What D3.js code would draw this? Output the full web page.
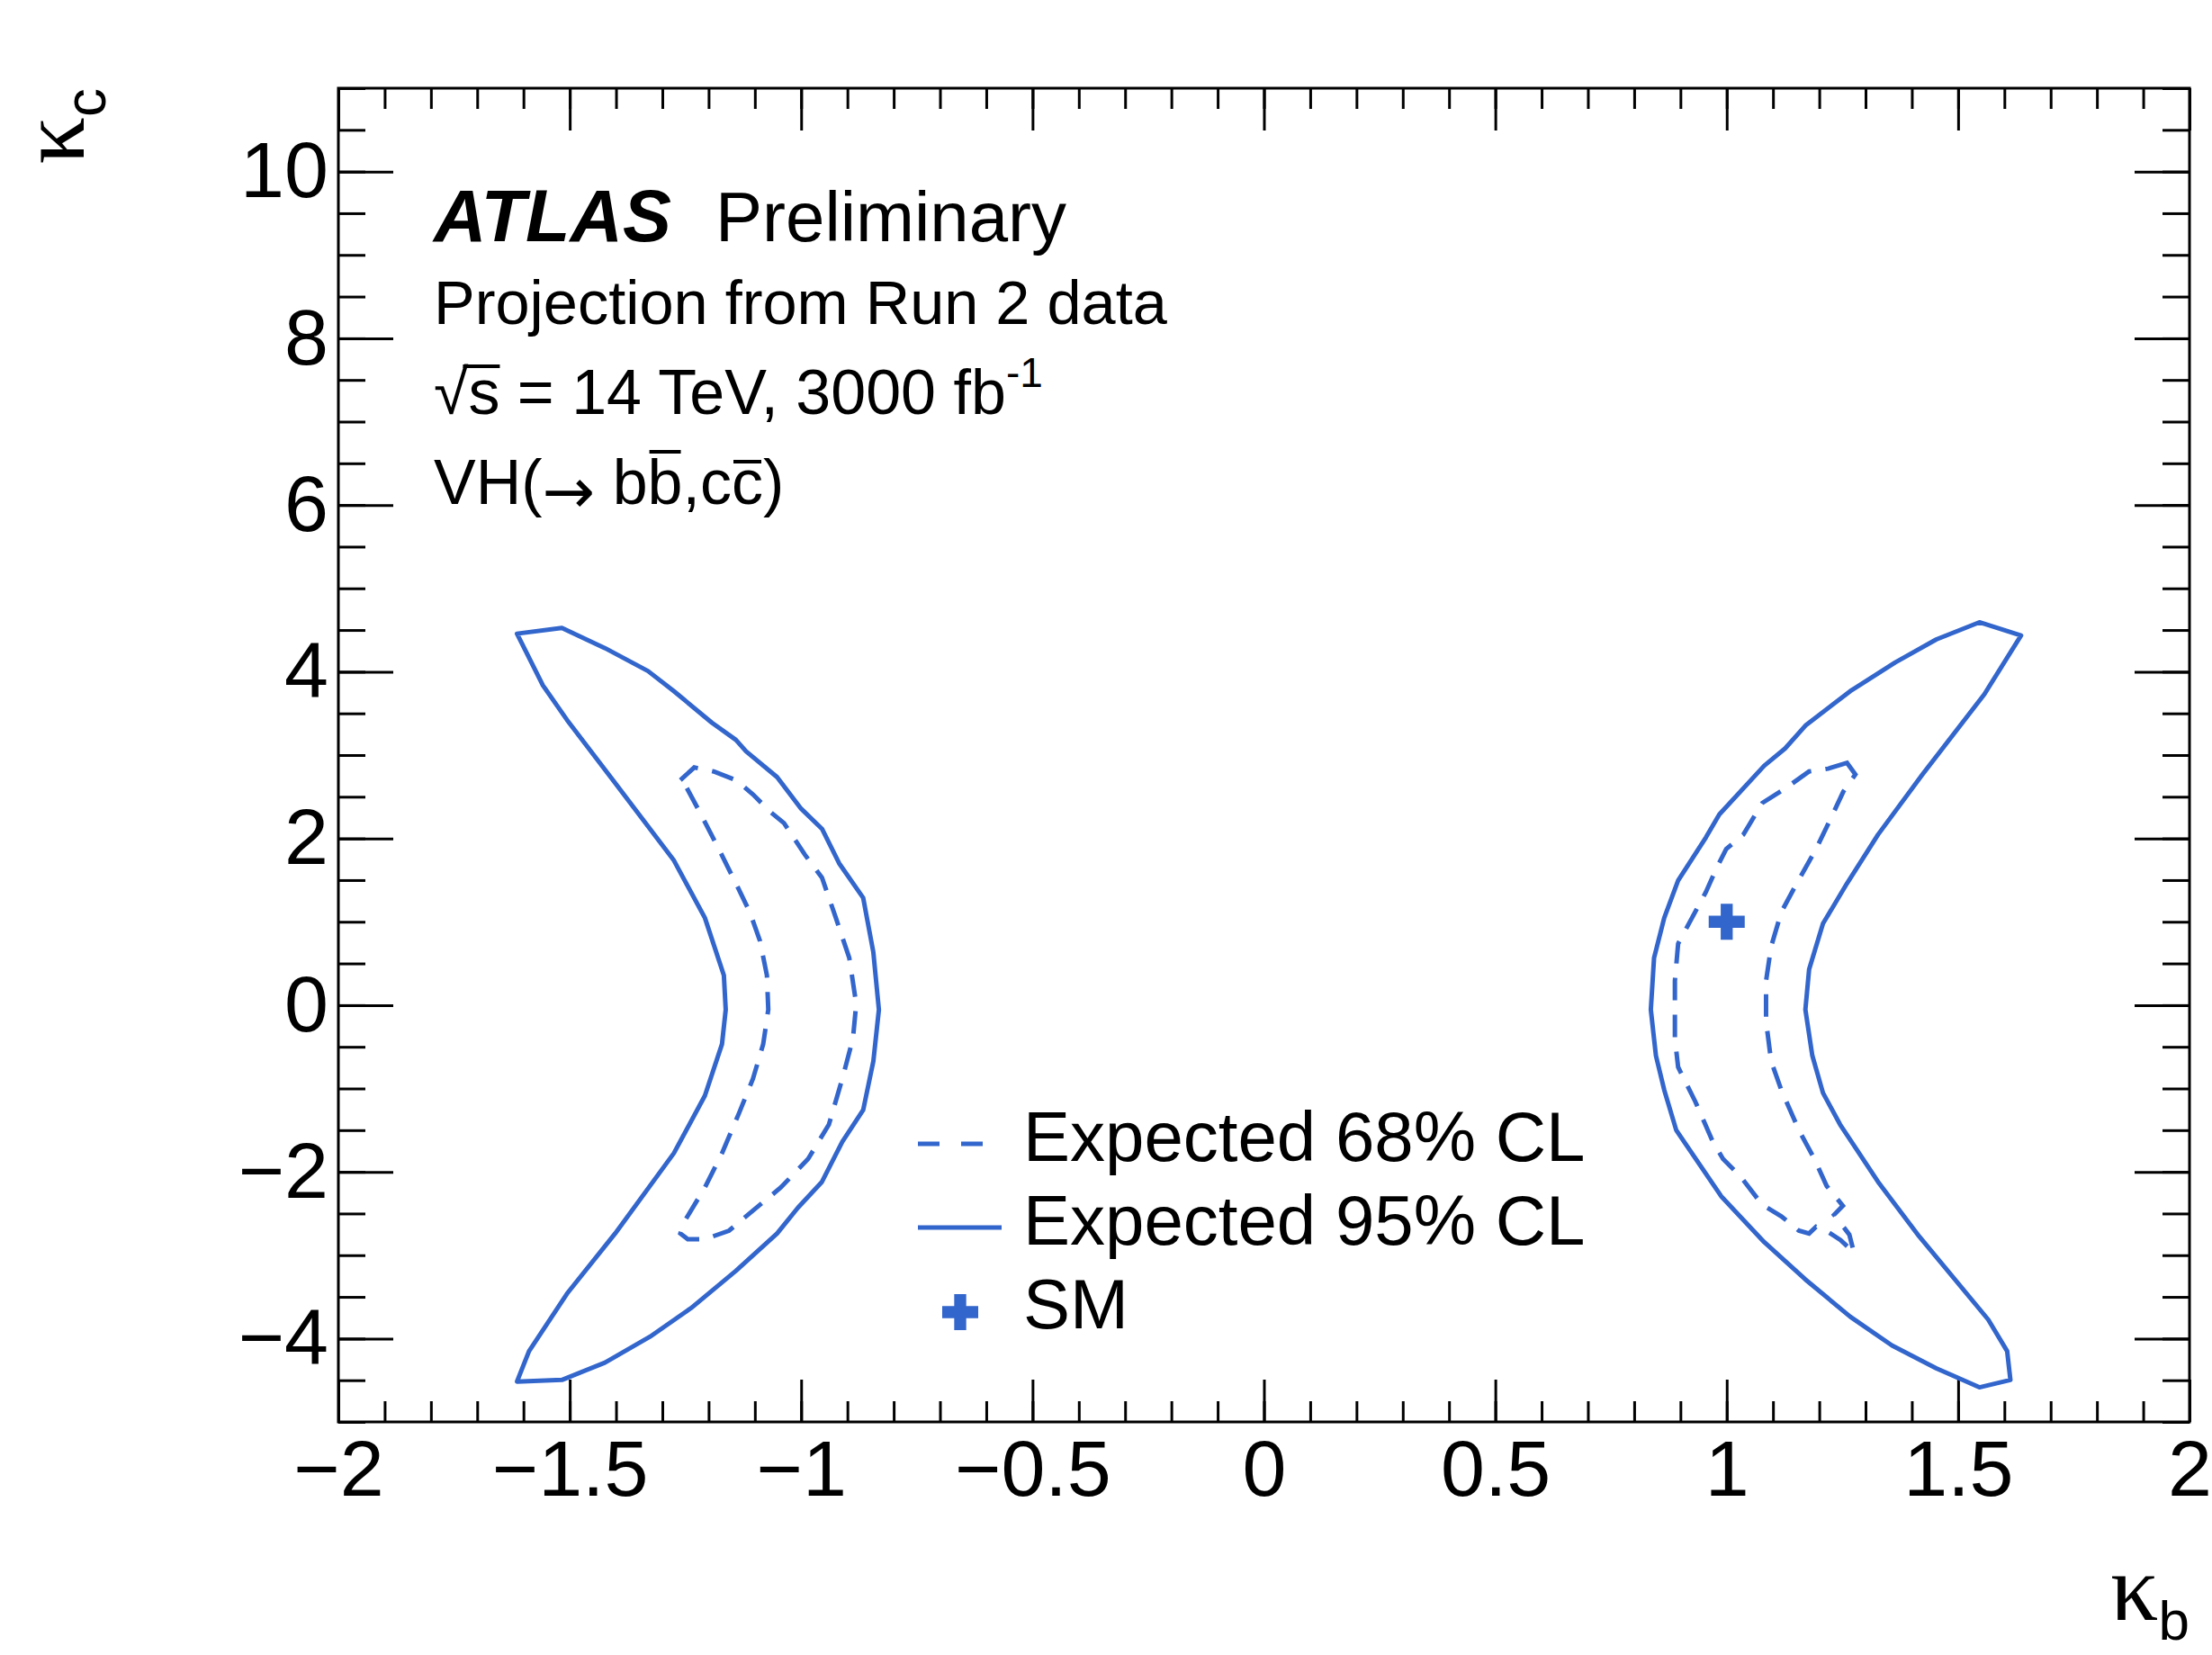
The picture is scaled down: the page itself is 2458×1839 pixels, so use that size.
<!DOCTYPE html>
<html>
<head>
<meta charset="utf-8">
<script src="https://cdn.jsdelivr.net/npm/d3@7"></script>
<style>
	body { margin: 0; background: #fff; }
</style>
</head>
<body>
<script>
// axis ticks
var kbTicks = [-2, -1.5, -1, -0.5, 0, 0.5, 1, 1.5, 2];
var kcTicks = [-4, -2, 0, 2, 4, 6, 8, 10];

// contours, [kappa_b, kappa_c]
var cl95Neg = [[-1.614, 4.456], [-1.517, 4.525], [-1.424, 4.283], [-1.331, 4.008], [-1.275, 3.767], [-1.193, 3.389], [-1.141, 3.182], [-1.119, 3.044], [-1.052, 2.735], [-1.000, 2.356], [-0.955, 2.115], [-0.918, 1.702], [-0.866, 1.288], [-0.844, 0.634], [-0.832, -0.054], [-0.844, -0.674], [-0.866, -1.259], [-0.911, -1.638], [-0.955, -2.120], [-1.007, -2.430], [-1.052, -2.740], [-1.141, -3.187], [-1.238, -3.635], [-1.327, -3.979], [-1.424, -4.289], [-1.517, -4.496], [-1.614, -4.516], [-1.588, -4.151], [-1.506, -3.462], [-1.402, -2.740], [-1.275, -1.776], [-1.208, -1.087], [-1.171, -0.467], [-1.163, -0.054], [-1.167, 0.358], [-1.208, 1.047], [-1.275, 1.736], [-1.402, 2.666], [-1.506, 3.422], [-1.558, 3.836]];

var cl68Neg = [[-1.261, 2.70], [-1.231, 2.851], [-1.189, 2.803], [-1.141, 2.70], [-1.104, 2.527], [-1.067, 2.321], [-1.037, 2.183], [-0.992, 1.805], [-0.955, 1.529], [-0.925, 1.047], [-0.896, 0.566], [-0.881, 0.014], [-0.888, -0.398], [-0.911, -0.881], [-0.940, -1.432], [-0.985, -1.845], [-1.044, -2.188], [-1.104, -2.465], [-1.156, -2.706], [-1.208, -2.808], [-1.245, -2.808], [-1.261, -2.740], [-1.253, -2.602], [-1.208, -2.188], [-1.171, -1.776], [-1.134, -1.293], [-1.104, -0.881], [-1.082, -0.467], [-1.071, -0.054], [-1.074, 0.358], [-1.089, 0.772], [-1.111, 1.116], [-1.141, 1.461], [-1.178, 1.873], [-1.223, 2.356], [-1.253, 2.666]];

var cl95Pos = [[1.636, 4.435], [1.546, 4.593], [1.453, 4.387], [1.364, 4.111], [1.267, 3.767], [1.170, 3.353], [1.126, 3.078], [1.081, 2.872], [0.984, 2.287], [0.955, 2.011], [0.895, 1.495], [0.865, 1.047], [0.843, 0.566], [0.836, -0.054], [0.847, -0.606], [0.865, -1.018], [0.891, -1.501], [0.988, -2.292], [1.081, -2.843], [1.170, -3.291], [1.267, -3.738], [1.357, -4.082], [1.453, -4.357], [1.546, -4.585], [1.613, -4.496], [1.606, -4.151], [1.565, -3.772], [1.416, -2.775], [1.327, -2.120], [1.245, -1.432], [1.208, -1.053], [1.185, -0.606], [1.170, -0.054], [1.178, 0.428], [1.208, 0.978], [1.260, 1.461], [1.327, 2.046], [1.423, 2.768], [1.557, 3.732]];

var cl68Pos = [[1.260, 2.906], [1.219, 2.837], [1.178, 2.803], [1.126, 2.597], [1.077, 2.425], [1.036, 2.046], [0.999, 1.873], [0.977, 1.632], [0.955, 1.357], [0.925, 1.047], [0.895, 0.737], [0.888, 0.289], [0.888, -0.398], [0.895, -0.743], [0.932, -1.156], [0.970, -1.638], [0.992, -1.845], [1.029, -2.051], [1.077, -2.396], [1.118, -2.533], [1.156, -2.706], [1.178, -2.740], [1.193, -2.660], [1.216, -2.710], [1.246, -2.818], [1.275, -2.969], [1.265, -2.753], [1.232, -2.515], [1.251, -2.407], [1.216, -2.170], [1.190, -1.850], [1.156, -1.501], [1.118, -1.018], [1.096, -0.674], [1.085, -0.192], [1.085, 0.289], [1.096, 0.703], [1.118, 1.116], [1.148, 1.426], [1.193, 1.873], [1.223, 2.218], [1.252, 2.562], [1.278, 2.768]];

var smPoint = [[1, 1]];

var legendLabels = ["Expected 68% CL", "Expected 95% CL", "SM"];

var width = 2458,
	height = 1839;
var frame = {left: 376, right: 2433, top: 98, bottom: 1580};
var blue = "#3366cc";
var font = "'Liberation Sans', Arial, Helvetica, sans-serif";
var serif = "'Liberation Serif', 'Times New Roman', serif";

var svg = d3.select("body").append("svg")
	.attr("width", width)
	.attr("height", height)
	.style("background", "#fff");

var x = d3.scaleLinear().domain([-2, 2]).range([frame.left, frame.right]);
var y = d3.scaleLinear().domain([-5, 11]).range([frame.bottom, frame.top]);

function fmt(d) {
	return d < 0 ? "\u2212" + Math.abs(d) : String(d);
}

function drawAxis(axis, tx, ty, withLabels) {
	var g = svg.append("g")
		.attr("transform", "translate(" + tx + "," + ty + ")")
		.call(axis);
	g.select(".domain").remove();
	g.selectAll(".tick line")
		.attr("stroke", "#000")
		.attr("stroke-width", 3);
	g.selectAll(".tick text")
		.attr("fill", "#000")
		.style("font-family", font)
		.style("font-size", "88px");
	if (!withLabels) g.selectAll(".tick text").remove();
}

var xMinor = d3.range(-2, 2.0001, 0.1);
var yMinor = d3.range(-5, 11.0001, 0.5);

drawAxis(d3.axisBottom(x).tickValues(xMinor).tickSizeInner(-23).tickSizeOuter(0), 0, frame.bottom, false);
drawAxis(d3.axisBottom(x).tickValues(kbTicks).tickSizeInner(-47).tickSizeOuter(0).tickPadding(20).tickFormat(fmt), 0, frame.bottom, true);
drawAxis(d3.axisTop(x).tickValues(xMinor).tickSizeInner(-23).tickSizeOuter(0), 0, frame.top, false);
drawAxis(d3.axisTop(x).tickValues(kbTicks).tickSizeInner(-47).tickSizeOuter(0), 0, frame.top, false);
drawAxis(d3.axisLeft(y).tickValues(yMinor).tickSizeInner(-30).tickSizeOuter(0), frame.left, 0, false);
drawAxis(d3.axisLeft(y).tickValues(kcTicks).tickSizeInner(-61).tickSizeOuter(0).tickPadding(11).tickFormat(fmt), frame.left, 0, true);
drawAxis(d3.axisRight(y).tickValues(yMinor).tickSizeInner(-30).tickSizeOuter(0), frame.right, 0, false);
drawAxis(d3.axisRight(y).tickValues(kcTicks).tickSizeInner(-61).tickSizeOuter(0), frame.right, 0, false);

svg.append("rect")
	.attr("x", frame.left)
	.attr("y", frame.top)
	.attr("width", frame.right - frame.left)
	.attr("height", frame.bottom - frame.top)
	.attr("fill", "none")
	.attr("stroke", "#000")
	.attr("stroke-width", 3);

// contours
var contour = d3.line()
	.x(function(d) { return x(d[0]); })
	.y(function(d) { return y(d[1]); })
	.curve(d3.curveLinearClosed);

[cl95Neg, cl95Pos].forEach(function(c) {
	svg.append("path")
		.datum(c)
		.attr("d", contour)
		.attr("fill", "none")
		.attr("stroke", blue)
		.attr("stroke-width", 5)
		.attr("stroke-linejoin", "round");
});

[cl68Neg, cl68Pos].forEach(function(c) {
	svg.append("path")
		.datum(c)
		.attr("d", contour)
		.attr("fill", "none")
		.attr("stroke", blue)
		.attr("stroke-width", 5)
		.attr("stroke-dasharray", "25,16");
});

var cross = d3.symbol().type(d3.symbolCross).size(890);

svg.selectAll(".sm")
	.data(smPoint)
	.enter().append("path")
	.attr("class", "sm")
	.attr("transform", function(d) { return "translate(" + x(d[0]) + "," + y(d[1]) + ")"; })
	.attr("d", cross)
	.attr("fill", blue);

// axis titles
var yTitle = svg.append("text")
	.attr("transform", "translate(93," + frame.top + ") rotate(-90)")
	.attr("text-anchor", "end")
	.attr("fill", "#000");
yTitle.append("tspan")
	.style("font-family", serif)
	.style("font-size", "104px")
	.text("\u03ba");
yTitle.append("tspan")
	.attr("dy", 24)
	.style("font-family", font)
	.style("font-size", "64px")
	.text("c");

var xTitle = svg.append("text")
	.attr("x", frame.right)
	.attr("y", 1800)
	.attr("text-anchor", "end")
	.attr("fill", "#000");
xTitle.append("tspan")
	.style("font-family", serif)
	.style("font-size", "106px")
	.text("\u03ba");
xTitle.append("tspan")
	.attr("dy", 22)
	.style("font-family", font)
	.style("font-size", "62px")
	.text("b");

// labels
var atlas = svg.append("text")
	.attr("x", 482)
	.attr("y", 268)
	.attr("fill", "#000")
	.style("font-family", font);
atlas.append("tspan")
	.style("font-size", "81px")
	.style("font-weight", "bold")
	.style("font-style", "italic")
	.text("ATLAS");
atlas.append("tspan")
	.attr("x", 795)
	.style("font-size", "78px")
	.text("Preliminary");

svg.append("text")
	.attr("x", 482)
	.attr("y", 360)
	.attr("fill", "#000")
	.style("font-family", font)
	.style("font-size", "68.5px")
	.text("Projection from Run 2 data");

function overline(node, index, yLine) {
	var e = node.getExtentOfChar(index);
	svg.append("line")
		.attr("x1", e.x + 2)
		.attr("x2", e.x + e.width - 2)
		.attr("y1", yLine)
		.attr("y2", yLine)
		.attr("stroke", "#000")
		.attr("stroke-width", 4);
}

var energy = svg.append("text")
	.attr("x", 482)
	.attr("y", 460)
	.attr("fill", "#000")
	.style("font-family", font)
	.style("font-size", "70px");
energy.append("tspan").text("\u221as = 14 TeV, 3000 fb");
energy.append("tspan")
	.attr("dy", -30)
	.style("font-size", "46px")
	.text("-1");
(function() {
	var n = energy.node();
	var r = n.getExtentOfChar(0);
	var s = n.getExtentOfChar(1);
	svg.append("line")
		.attr("x1", r.x + r.width - 6)
		.attr("x2", s.x + s.width)
		.attr("y1", 407)
		.attr("y2", 407)
		.attr("stroke", "#000")
		.attr("stroke-width", 4);
})();

var process = svg.append("text")
	.attr("x", 482)
	.attr("y", 560)
	.attr("fill", "#000")
	.style("font-family", font)
	.style("font-size", "70px");
process.append("tspan").text("VH(");
process.append("tspan")
	.attr("dy", 10)
	.style("font-family", "'DejaVu Sans', sans-serif")
	.text("\u2192");
process.append("tspan")
	.attr("dy", -10)
	.text(" bb,cc)");
overline(process.node(), 6, 502);
overline(process.node(), 9, 513);

// legend
var legend = svg.append("g");
legend.append("line")
	.attr("x1", 1020).attr("x2", 1092)
	.attr("y1", 1271).attr("y2", 1271)
	.attr("stroke", blue)
	.attr("stroke-width", 5)
	.attr("stroke-dasharray", "24,24");
legend.append("line")
	.attr("x1", 1020).attr("x2", 1113)
	.attr("y1", 1364).attr("y2", 1364)
	.attr("stroke", blue)
	.attr("stroke-width", 5);
legend.append("path")
	.attr("transform", "translate(1067,1458)")
	.attr("d", cross)
	.attr("fill", blue);

legend.selectAll(".entry")
	.data(legendLabels)
	.enter().append("text")
	.attr("class", "entry")
	.attr("x", 1137)
	.attr("y", function(d, i) { return 1290 + i * 93; })
	.attr("fill", "#000")
	.style("font-family", font)
	.style("font-size", "78px")
	.text(function(d) { return d; });
</script>
</body>
</html>
